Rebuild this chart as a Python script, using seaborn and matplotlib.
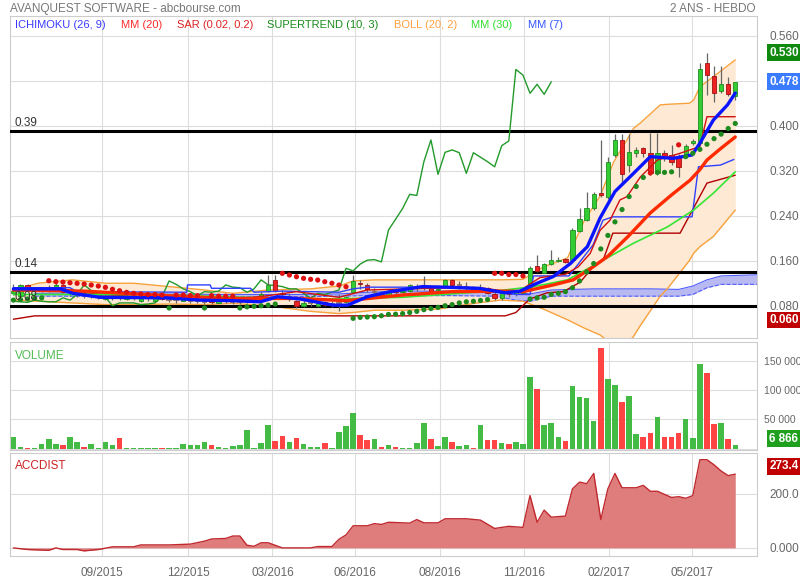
import matplotlib
matplotlib.use("Agg")
import matplotlib.pyplot as plt
import matplotlib.transforms as mtransforms
import seaborn as sns

# ---- données hebdo (103 semaines, 07/2015 -> 06/2017) ----
opens = [0.102, 0.098, 0.117, 0.110, 0.109, 0.110, 0.112, 0.117, 0.104, 0.102,
         0.102, 0.099, 0.098, 0.092, 0.096, 0.097, 0.092, 0.096, 0.088, 0.093,
         0.088, 0.095, 0.091, 0.090, 0.089, 0.089, 0.088, 0.087, 0.088, 0.085,
         0.088, 0.087, 0.087, 0.086, 0.090, 0.092, 0.107, 0.126, 0.103, 0.092,
         0.088, 0.080, 0.085, 0.080, 0.087, 0.083, 0.085, 0.087, 0.105, 0.120,
         0.117, 0.105, 0.101, 0.098, 0.106, 0.104, 0.106, 0.113, 0.111, 0.112,
         0.108, 0.115, 0.126, 0.115, 0.114, 0.113, 0.109, 0.111, 0.100, 0.093,
         0.102, 0.100, 0.103, 0.108, 0.151, 0.139, 0.154, 0.159, 0.163, 0.161,
         0.213, 0.232, 0.253, 0.281, 0.273, 0.348, 0.3746, 0.330, 0.352, 0.360,
         0.351, 0.3154, 0.351, 0.348, 0.345, 0.348, 0.369, 0.369, 0.512, 0.488,
         0.462, 0.474, 0.452]
highs = [0.118, 0.119, 0.119, 0.114, 0.114, 0.116, 0.120, 0.118, 0.108, 0.106,
         0.104, 0.103, 0.102, 0.100, 0.101, 0.100, 0.100, 0.100, 0.097, 0.097,
         0.097, 0.097, 0.094, 0.094, 0.100, 0.093, 0.092, 0.090, 0.091, 0.092,
         0.092, 0.090, 0.091, 0.096, 0.094, 0.104, 0.134, 0.134, 0.108, 0.100,
         0.090, 0.090, 0.089, 0.088, 0.089, 0.088, 0.100, 0.098, 0.134, 0.126,
         0.121, 0.112, 0.106, 0.108, 0.110, 0.112, 0.119, 0.118, 0.132, 0.114,
         0.116, 0.128, 0.128, 0.124, 0.122, 0.115, 0.118, 0.113, 0.104, 0.104,
         0.105, 0.106, 0.110, 0.150, 0.170, 0.156, 0.179, 0.167, 0.165, 0.218,
         0.254, 0.283, 0.283, 0.375, 0.345, 0.386, 0.386, 0.386, 0.362, 0.362,
         0.387, 0.387, 0.356, 0.366, 0.350, 0.368, 0.376, 0.512, 0.530, 0.506,
         0.506, 0.486, 0.478]
lows = [0.099, 0.096, 0.108, 0.104, 0.104, 0.104, 0.110, 0.103, 0.098, 0.096,
        0.094, 0.093, 0.092, 0.090, 0.091, 0.091, 0.090, 0.090, 0.086, 0.088,
        0.087, 0.090, 0.086, 0.085, 0.088, 0.085, 0.084, 0.083, 0.083, 0.084,
        0.084, 0.083, 0.083, 0.085, 0.086, 0.090, 0.105, 0.104, 0.096, 0.088,
        0.076, 0.078, 0.079, 0.078, 0.079, 0.078, 0.070, 0.085, 0.103, 0.110,
        0.104, 0.098, 0.094, 0.096, 0.100, 0.100, 0.104, 0.106, 0.108, 0.102,
        0.104, 0.113, 0.114, 0.110, 0.108, 0.106, 0.105, 0.100, 0.091, 0.091,
        0.096, 0.097, 0.100, 0.105, 0.140, 0.138, 0.152, 0.157, 0.156, 0.160,
        0.211, 0.230, 0.250, 0.274, 0.270, 0.345, 0.298, 0.318, 0.345, 0.345,
        0.313, 0.313, 0.338, 0.330, 0.309, 0.345, 0.366, 0.366, 0.4546, 0.443,
        0.458, 0.452, 0.446]
closes = [0.106, 0.117, 0.110, 0.110, 0.110, 0.111, 0.117, 0.105, 0.104, 0.102,
          0.100, 0.099, 0.098, 0.097, 0.096, 0.095, 0.097, 0.096, 0.094, 0.093,
          0.095, 0.092, 0.091, 0.090, 0.094, 0.089, 0.088, 0.087, 0.086, 0.090,
          0.088, 0.087, 0.087, 0.094, 0.090, 0.100, 0.117, 0.107, 0.100, 0.095,
          0.080, 0.085, 0.085, 0.085, 0.082, 0.083, 0.085, 0.096, 0.124, 0.118,
          0.110, 0.105, 0.098, 0.105, 0.104, 0.106, 0.117, 0.113, 0.112, 0.104,
          0.110, 0.126, 0.117, 0.116, 0.114, 0.110, 0.110, 0.102, 0.093, 0.102,
          0.100, 0.104, 0.108, 0.1465, 0.142, 0.154, 0.161, 0.162, 0.158, 0.2146,
          0.2336, 0.253, 0.278, 0.276, 0.336, 0.3746, 0.3136, 0.3527, 0.357, 0.352,
          0.3154, 0.352, 0.344, 0.336, 0.327, 0.3645, 0.3728, 0.500, 0.490, 0.4576,
          0.4736, 0.4558, 0.478]
volumes = [20600, 2900, 1800, 1800, 7600, 16500, 7600, 5300, 20600, 10600,
           2400, 7000, 500, 11800, 5900, 17600, 1800, 1800, 1200, 600,
           600, 1200, 600, 1800, 7600, 5300, 5300, 10600, 5900, 2400,
           1800, 4100, 5300, 32400, 1800, 10000, 40000, 12900, 22400, 10600,
           17600, 7600, 2400, 2900, 10000, 600, 28800, 38200, 60600, 23500,
           14700, 16500, 2400, 5900, 2900, 1800, 1800, 8800, 44000, 15900,
           4100, 19400, 10600, 4100, 5300, 1800, 40000, 14700, 14700, 8800,
           7000, 11800, 8200, 123500, 103000, 41000, 44000, 19400, 12900, 107600,
           88000, 86500, 47000, 173500, 119000, 108800, 79400, 91000, 25300, 20600,
           26500, 54700, 20600, 20600, 26500, 50000, 17600, 145800, 129400, 42400,
           44000, 16500, 6866]
sar = [0.090, 0.091, 0.092, 0.093, 0.094, 0.1244, 0.1227, 0.1221, 0.1209, 0.1198,
       0.1186, 0.1168, 0.1150, 0.1127, 0.1092, 0.1067, 0.1038, 0.1020, 0.1010, 0.1000,
       0.1000, 0.0990, 0.0760, 0.0990, 0.0990, 0.0980, 0.0980, 0.0760, 0.0980, 0.0970,
       0.0970, 0.0970, 0.0760, 0.0780, 0.0790, 0.0800, 0.0810, 0.0830, 0.1376, 0.1346,
       0.1316, 0.1287, 0.1270, 0.1257, 0.1227, 0.1200, 0.1168, 0.1138, 0.0576, 0.0593,
       0.0599, 0.0605, 0.0622, 0.0646, 0.0650, 0.0660, 0.0680, 0.0700, 0.0730, 0.0750,
       0.0770, 0.0800, 0.0820, 0.0850, 0.0870, 0.0880, 0.0894, 0.0910, 0.1376, 0.1376,
       0.1355, 0.1355, 0.1330, 0.0920, 0.0940, 0.0950, 0.1000, 0.1020, 0.1050, 0.1120,
       0.1240, 0.1400, 0.1550, 0.1810, 0.2050, 0.2290, 0.2510, 0.2740, 0.2920, 0.3080,
       0.3160, 0.3170, 0.3170, 0.3180, 0.3660, 0.3450, 0.3510, 0.3580, 0.3670, 0.3770,
       0.3850, 0.3950, 0.4040]

# indicateurs (semaine, valeur)
mm7_w = [0, 6.6, 8.4, 12.2, 21.7, 26.4, 31, 34.9, 37.3, 40.5, 45.2, 47.2, 50, 53.2,
         57.8, 61, 65.7, 69.5, 71.6, 74, 76.3, 78.7, 81.1, 82.9, 85, 87.6, 90, 93.2,
         95.9, 97, 98.9, 100.9, 102]
mm7_v = [0.110, 0.110, 0.102, 0.095, 0.094, 0.090, 0.089, 0.087, 0.096, 0.092, 0.081,
         0.081, 0.096, 0.105, 0.114, 0.113, 0.111, 0.103, 0.106, 0.120, 0.132, 0.155,
         0.185, 0.236, 0.283, 0.315, 0.345, 0.342, 0.348, 0.369, 0.410, 0.437, 0.458]
mm20_w = [0, 10, 20, 30, 40, 47, 55, 62, 70, 72, 76.3, 79.1, 81.9, 84, 87, 90, 93,
          95.6, 97, 98, 100, 102]
mm20_v = [0.108, 0.106, 0.099, 0.093, 0.093, 0.089, 0.099, 0.105, 0.106, 0.105, 0.117,
          0.126, 0.149, 0.168, 0.205, 0.245, 0.277, 0.303, 0.322, 0.339, 0.360, 0.380]
mm30_w = [0, 20, 35, 45, 55, 68.8, 73.5, 78.3, 82.9, 87.6, 92.4, 96.1, 98.9, 102]
mm30_v = [0.100, 0.100, 0.094, 0.092, 0.095, 0.107, 0.114, 0.126, 0.158, 0.191, 0.220,
          0.250, 0.280, 0.318]
boll_w = [0, 3.5, 8.3, 13, 17, 22, 27, 31, 36, 42, 46, 48, 51, 55, 60, 65, 68.8, 72,
          74.9, 78.3, 80.7, 82.9, 83.7, 84.8, 85.5, 86.7, 87.6, 88.6, 91.4, 92.4, 95.5,
          96.1, 97, 98.9, 102]
boll_haut = [0.108, 0.120, 0.126, 0.120, 0.120, 0.114, 0.108, 0.102, 0.108, 0.110,
             0.115, 0.124, 0.126, 0.126, 0.126, 0.126, 0.126, 0.127, 0.149, 0.165,
             0.232, 0.275, 0.300, 0.335, 0.350, 0.375, 0.395, 0.405, 0.437, 0.438,
             0.440, 0.445, 0.469, 0.487, 0.517]
boll_bas = [0.090, 0.088, 0.085, 0.082, 0.082, 0.083, 0.082, 0.084, 0.080, 0.070,
            0.066, 0.068, 0.072, 0.072, 0.074, 0.084, 0.090, 0.088, 0.074, 0.055,
            0.040, 0.028, 0.020, 0.010, 0.005, 0.012, 0.025, 0.045, 0.097, 0.110,
            0.160, 0.173, 0.185, 0.203, 0.250]
kijun_w = [0, 8, 9, 24.5, 24.6, 27.8, 28, 33.5, 34, 38, 46, 48, 50, 62, 66, 71, 73,
           73.5, 78.5, 81.9, 83.3, 84.7, 95.9, 96.8, 99.9, 101.8]
kijun_v = [0.112, 0.112, 0.105, 0.104, 0.117, 0.117, 0.111, 0.111, 0.104, 0.106, 0.104,
           0.110, 0.113, 0.113, 0.108, 0.100, 0.100, 0.133, 0.133, 0.188, 0.232, 0.238,
           0.238, 0.327, 0.330, 0.340]
tenkan_w = [0, 8, 12, 20, 30, 36, 40, 46, 50, 56, 62, 66, 70, 71.6, 74.4, 78, 79.8,
            81.5, 82.9, 84.3, 85.7, 86.7, 88.6, 91, 94.2, 97, 98, 102]
tenkan_v = [0.108, 0.108, 0.100, 0.095, 0.090, 0.098, 0.105, 0.095, 0.108, 0.110, 0.112,
            0.112, 0.105, 0.107, 0.130, 0.136, 0.149, 0.173, 0.214, 0.232, 0.268, 0.274,
            0.309, 0.339, 0.351, 0.363, 0.416, 0.416]
stop_w = [0, 3, 69.5, 71, 72.3, 73, 75.4, 77.7, 80.1, 81.9, 83.3, 84.7, 94.2, 98, 102]
stop_v = [0.056, 0.062, 0.062, 0.068, 0.084, 0.092, 0.103, 0.105, 0.122, 0.149, 0.160,
          0.209, 0.209, 0.298, 0.312]
nuage_w = [3, 10, 20, 30, 40, 46, 50, 56, 62, 68, 71, 73, 76, 82, 90, 94, 96, 98, 100, 105.1]
nuage_a = [0.102, 0.103, 0.101, 0.100, 0.100, 0.101, 0.104, 0.106, 0.106, 0.106, 0.103,
           0.101, 0.108, 0.110, 0.110, 0.109, 0.115, 0.126, 0.133, 0.135]
nuage_b = [0.097, 0.097, 0.096, 0.096, 0.096, 0.097, 0.098, 0.098, 0.098, 0.097, 0.090,
           0.088, 0.097, 0.097, 0.097, 0.097, 0.100, 0.112, 0.118, 0.118]
acc_w = [0, 2, 5, 6, 7, 9, 10, 12, 14, 17, 18, 22, 25, 27, 28, 30, 31, 32, 33, 34, 35,
         36, 38, 42, 43, 45, 46, 47, 48, 50, 51, 52, 53, 55, 56, 57, 58, 60, 61, 64, 66,
         68, 70, 72, 73, 74, 75, 76, 78, 79, 80, 81, 82, 83, 84, 85, 86, 88, 89, 90, 91,
         93, 94, 95, 96, 97, 98, 99, 100, 101, 102]
acc_v = [0, -6, -9, 0, -6, -6, -11, -6, 4, 4, 11, 11, 14, 25, 33, 35, 44, 44, 10, 6, 19,
         19, 0, 0, 5, 5, 32, 48, 82, 82, 90, 87, 95, 93, 92, 105, 93, 93, 108, 108, 103,
         72, 80, 76, 194, 95, 140, 114, 118, 219, 244, 238, 276, 105, 219, 276, 223, 223,
         232, 210, 210, 187, 190, 184, 194, 327, 327, 308, 285, 268, 273.4]
niveaux = [0.39, 0.14, 0.08]
tick_semaines = [12.5, 24.7, 36.6, 48.3, 60.3, 72.2, 84.1, 95.9]
tick_dates = ["09/2015", "12/2015", "03/2016", "06/2016", "08/2016", "11/2016",
              "02/2017", "05/2017"]

sns.set_theme(style="white")
plt.rcParams["font.family"] = ["Liberation Sans", "DejaVu Sans"]

GRILLE = "#dddddd"
CADRE = "#cccccc"
TXT = "#666666"
VERT = "#33cc33"
ROUGE = "#ee2222"
FS = 8

semaines = list(range(len(closes)))
fig = plt.figure(figsize=(8, 5.8), dpi=100)
ax = fig.add_axes([0.0125, 0.4172, 0.934, 0.5552])
axv = fig.add_axes([0.0125, 0.2241, 0.934, 0.1862])
axa = fig.add_axes([0.0125, 0.0414, 0.934, 0.1776])


def habiller(a, yt, ylab, ylim, taille=FS + 0.5, pad=9):
    a.set_xlim(-0.48, 105.1)
    a.set_ylim(*ylim)
    a.set_xticks(tick_semaines)
    a.set_yticks(yt)
    a.set_yticklabels(ylab)
    a.yaxis.tick_right()
    a.tick_params(axis="y", length=0, pad=pad, labelsize=taille, labelcolor=TXT)
    a.tick_params(axis="x", length=0)
    a.grid(True, color=GRILLE, lw=0.8)
    a.set_axisbelow(True)
    for s in a.spines.values():
        s.set_color(CADRE)
        s.set_linewidth(0.8)
    a.set_xlabel("")
    a.set_ylabel("")


def ligne(a, w, v, couleur, lw, z, **kw):
    sns.lineplot(x=w, y=v, ax=a, color=couleur, linewidth=lw, zorder=z,
                 estimator=None, sort=False, legend=False, **kw)


def etiquette(a, y, txt, fond, dy=0):
    mix = mtransforms.blended_transform_factory(a.transAxes, a.transData)
    a.annotate(txt, xy=(1, y), xycoords=mix, xytext=(12, dy), textcoords="offset pixels",
               fontsize=FS + 0.5, color="white", fontweight="bold", va="center",
               ha="left", zorder=10, annotation_clip=False,
               bbox=dict(boxstyle="square,pad=0.2", fc=fond, ec="none"))


# ---- panneau prix ----
ax.fill_between(boll_w, boll_bas, boll_haut, color="#fde9d4", lw=0, zorder=1)
ax.fill_between(nuage_w, nuage_b, nuage_a, color="#b9b9f2", lw=0, zorder=2)
ligne(ax, nuage_w, nuage_a, "#4d5cff", 0.8, 2.5)
ligne(ax, nuage_w, nuage_b, "#4d5cff", 0.8, 2.5, linestyle="--")
ligne(ax, boll_w, boll_haut, "#f7a23c", 1.0, 3)
ligne(ax, boll_w, boll_bas, "#f7a23c", 1.0, 3)
for n in niveaux:
    ax.axhline(n, color="black", lw=2.2, zorder=3.5)

doji = [abs(c - o) < 0.0012 for o, c in zip(opens, closes)]
hausse = [c >= o for o, c in zip(opens, closes)]
ax.vlines(semaines, lows, highs, color="#666666", lw=0.9, zorder=5)
cw, cb, ch, cc, ce = [], [], [], [], []
dw, dv = [], []
for i in semaines:
    if doji[i]:
        dw.append(i)
        dv.append(closes[i])
        continue
    cw.append(i)
    cb.append(min(opens[i], closes[i]))
    ch.append(abs(closes[i] - opens[i]))
    cc.append(VERT if hausse[i] else ROUGE)
    ce.append("#1f8f1f" if hausse[i] else "#a01010")
ax.bar(cw, ch, bottom=cb, width=0.62, color=cc, edgecolor=ce, linewidth=0.6, zorder=6)
ax.hlines(dv, [w - 0.38 for w in dw], [w + 0.38 for w in dw], color="#8a6d5d", lw=1.2, zorder=6)

ligne(ax, [w - 26 for w in semaines[26:]], closes[26:], "#229a2a", 1.0, 4)
ligne(ax, stop_w, stop_v, "#b00000", 1.0, 6.5)
ligne(ax, kijun_w, kijun_v, "#3040ff", 1.0, 6.5)
ligne(ax, tenkan_w, tenkan_v, "#d01010", 1.0, 6.5)
ligne(ax, mm30_w, mm30_v, "#33e633", 1.2, 7)
ligne(ax, mm20_w, mm20_v, "#ff2a00", 2.4, 7.2)
ligne(ax, mm7_w, mm7_v, "#0a14ff", 2.4, 7.4)

sar_col = ["#dd1111" if s > c else "#1f8a1f" for s, c in zip(sar, closes)]
sns.scatterplot(x=semaines, y=sar, ax=ax, c=sar_col, s=14, linewidth=0, zorder=8, legend=False)

habiller(ax, [0.08, 0.16, 0.24, 0.32, 0.40, 0.48, 0.56],
         ["0.080", "0.160", "0.240", "0.320", "0.400", "", "0.560"], (0.0226, 0.595))
ax.set_xticklabels([])

mix = mtransforms.blended_transform_factory(ax.transAxes, ax.transData)
for n in niveaux:
    ax.text(0.006, n + 0.004, f"{n:.2f}", transform=mix, fontsize=FS + 0.5, color="#333333",
            va="bottom", ha="left", zorder=9)
etiquette(ax, 0.530, "0.530", "#0f8a0f")
etiquette(ax, 0.478, "0.478", "#3a7bff")
etiquette(ax, 0.060, "0.060", "#c00000", dy=-3)

# ---- volume ----
vcol = ["#44bb44" if h else "#ff4444" for h in hausse]
axv.bar(semaines, volumes, width=0.78, color=vcol, linewidth=0, zorder=3)
habiller(axv, [0, 50000, 100000, 150000], ["", "50 000", "100 000", "150 000"],
         (-2500, 183000), taille=FS - 0.5, pad=5)
axv.set_xticklabels([])
axv.text(0.007, 0.93, "VOLUME", transform=axv.transAxes, fontsize=FS + 0.5, color="#55bb55",
         va="top", ha="left")
etiquette(axv, 6866, "6 866", "#1ea01e", dy=6)

# ---- accdist ----
axa.fill_between(acc_w, acc_v, 0, color="#df7d7d", lw=0, zorder=2)
ligne(axa, acc_w, acc_v, "#c0282d", 1.0, 3)
habiller(axa, [0, 200], ["0.000", "200.0"], (-30, 352))
axa.set_xticklabels(tick_dates)
axa.tick_params(axis="x", labelsize=FS + 0.5, labelcolor=TXT, pad=8)
axa.text(0.007, 0.93, "ACCDIST", transform=axa.transAxes, fontsize=FS + 0.5, color="#cc2222",
         va="top", ha="left")
etiquette(axa, 273.4, "273.4", "#c00000", dy=8)

# ---- titres et légende ----
fig.text(10 / 800, 1 - 9 / 580, "AVANQUEST SOFTWARE - abcbourse.com", fontsize=FS + 0.5,
         color="#777777", va="center", ha="left")
fig.text(755 / 800, 1 - 9 / 580, "2 ANS - HEBDO", fontsize=FS + 0.5, color="#777777",
         va="center", ha="right")
legende = [("ICHIMOKU (26, 9)", "#3a3aff", 15), ("MM (20)", "#ff2a2a", 121),
           ("SAR (0.02, 0.2)", "#dd2222", 177), ("SUPERTREND (10, 3)", "#1a8c1a", 267),
           ("BOLL (20, 2)", "#ffa040", 394), ("MM (30)", "#33dd33", 471),
           ("MM (7)", "#3355ff", 528)]
for txt, col, px in legende:
    fig.text(px / 800, 1 - 25 / 580, txt, fontsize=FS, color=col, va="center", ha="left")

fig.savefig("out.png", dpi=100)
